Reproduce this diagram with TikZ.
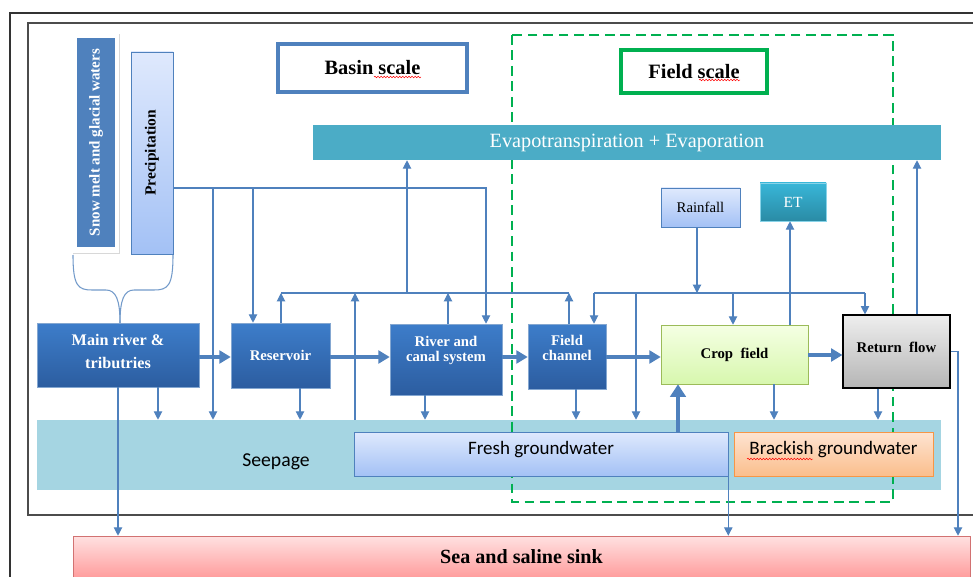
\documentclass[tikz,border=0pt]{standalone}
\usepackage{fontspec}
\setmainfont{Liberation Serif}
\newfontfamily\calfont{Carlito}
\usetikzlibrary{arrows.meta,shadows,decorations.pathmorphing}

\definecolor{linkblue}{HTML}{4F81BD}
\definecolor{boxtop}{HTML}{3D7DCA}
\definecolor{boxbot}{HTML}{2C5DA0}
\definecolor{evapteal}{HTML}{4BACC6}
\definecolor{seepteal}{HTML}{A5D5E2}
\definecolor{paletop}{HTML}{DFE9FD}
\definecolor{palebot}{HTML}{A3C1F5}
\definecolor{croptop}{HTML}{F5FFE3}
\definecolor{cropbot}{HTML}{D7F7AE}
\definecolor{cropedge}{HTML}{9BBB59}
\definecolor{rettop}{HTML}{EEEEEE}
\definecolor{retbot}{HTML}{B5B5B5}
\definecolor{ettop}{HTML}{38B6D8}
\definecolor{etbot}{HTML}{2A8BA5}
\definecolor{bracktop}{HTML}{FDE4D2}
\definecolor{brackbot}{HTML}{FBBE8C}
\definecolor{brackedge}{HTML}{F79646}
\definecolor{seatop}{HTML}{FFE1E1}
\definecolor{seabot}{HTML}{FF9C9C}
\definecolor{seaedge}{HTML}{D27272}
\definecolor{fieldgreen}{HTML}{00B050}

\tikzset{
  box at/.style args={#1/#2/#3/#4}{at={({(#1+#3)/2},{(#2+#4)/2})},
    minimum width={(#3-#1)*0.025cm}, minimum height={(#4-#2)*0.025cm}},
  box/.style={inner sep=0pt, align=center, anchor=center},
  shade box/.style={drop shadow={opacity=0.25,shadow xshift=1pt,shadow yshift=-1pt}},
  bluebox/.style={box, shade box, draw=linkblue!70!white, top color=boxtop, bottom color=boxbot,
    text=white, font=\fontsize{10.5}{13}\selectfont\bfseries},
  palebox/.style={box, shade box, draw=linkblue, top color=paletop, bottom color=palebot},
  scalebox/.style={box, fill=white, line width=2.4pt, font=\fontsize{14.5}{16}\selectfont\bfseries},
  linkline/.style={draw=linkblue, line width=0.75pt},
  linkarr/.style={linkline, -{Triangle[length=6pt,width=6pt]}},
  bigarr/.style={draw=linkblue, line width=2.6pt, -{Triangle[length=8pt,width=9pt]}},
  spellmark/.style={red, line width=0.35pt, decorate, decoration={snake,amplitude=0.6pt,segment length=2.2pt}}
}

\begin{document}
\begin{tikzpicture}[x=0.025cm,y=-0.025cm]
	\useasboundingbox (0,0) rectangle (973,577);
	\clip (0,0) rectangle (973,577);
	\fill[white] (0,0) rectangle (973,577);

	\draw[black!80, line width=1.1pt] (10,590) -- (10,13) -- (990,13);
	\draw[black!70, line width=0.8pt] (990,23) -- (28,23) -- (28,515) -- (990,515);

	\node[box, box at=37/420/941/490, fill=seepteal] (seep) {};
	\node[font=\calfont\fontsize{14}{16}\selectfont] (seeptext) at (276,462) {Seepage};
	\draw[fieldgreen, line width=1.4pt, dash pattern=on 7pt off 4pt] (512,35) rectangle (893,502);

	\node[scalebox, draw=linkblue, box at=278/44/467/92] (basin) {Basin scale};
	\node[scalebox, draw=fieldgreen, box at=621/50/767/93] (field) {Field scale};
	\draw[spellmark] (374,77) -- (421,77);
	\draw[spellmark] (699,80) -- (740,80);

	\node[box, box at=313/125/941/160, fill=evapteal, text=white, font=\fontsize{14.4}{16}\selectfont] (evap) {Evapotranspiration + Evaporation};

	\node[box, box at=72/33/119/253, fill=white, drop shadow={opacity=0.3,shadow xshift=0.6pt,shadow yshift=-0.6pt}] (snowframe) {};
	\node[box, box at=77/38/115/247, fill=linkblue, text=white, font=\fontsize{10.7}{12}\selectfont\bfseries] (snow) {\rotatebox{90}{Snow melt and glacial waters}};
	\node[palebox, box at=131/52/173/254, font=\fontsize{11}{12}\selectfont\bfseries] (prec) {\rotatebox{90}{Precipitation}};

	\node[bluebox, box at=37/323/199/387, font=\fontsize{11.5}{16}\selectfont\bfseries, text depth=5pt] (main) {Main river \&\\tributries};
	\node[bluebox, box at=231/323/330/388] (res) {Reservoir};
	\node[bluebox, box at=390/324/502/395, text depth=15pt] (canal) {River and\\[-2pt]canal system};
	\node[bluebox, box at=528/324/606/389, text depth=12pt] (chan) {Field\\[-2pt]channel};
	\node[box, shade box, box at=661/325/808/384, draw=cropedge, top color=croptop, bottom color=cropbot, font=\fontsize{10.5}{13}\selectfont\bfseries] (crop) {Crop\ \ field};
	\node[box, shade box, box at=843/315/950/388, draw=black, line width=0.8pt, top color=rettop, bottom color=retbot, font=\fontsize{10.5}{13}\selectfont\bfseries, text depth=6.5pt] (ret) {Return\ \ flow};
	\node[palebox, box at=661/188/740/227, font=\fontsize{10.5}{12}\selectfont] (rain) {Rainfall};
	\node[box, shade box, box at=760/183/826/221, draw=ettop!60!white, top color=ettop, bottom color=etbot, text=white, font=\fontsize{11}{12}\selectfont] (et) {ET};

	\node[palebox, box at=354/432/728/476, font=\calfont\fontsize{13.5}{15}\selectfont, text depth=8pt] (fresh) {Fresh groundwater};
	\node[box, shade box, box at=734/432/933/476, draw=brackedge, top color=bracktop, bottom color=brackbot, font=\calfont\fontsize{13.5}{15}\selectfont, text depth=8pt] (brack) {Brackish groundwater};
	\draw[spellmark] (747,459) -- (813,459);
	\node[box, shade box, box at=73/536/970/578, draw=seaedge, top color=seatop, bottom color=seabot, font=\fontsize{14.3}{16}\selectfont\bfseries] (sea) {Sea and saline sink};

	\draw[linkline, draw=linkblue!80!white] (73,255) .. controls (73,286) and (78,290) .. (92,290) -- (106,290) .. controls (116,290) and (120,300) .. (120,323);
	\draw[linkline, draw=linkblue!80!white] (173,255) .. controls (173,286) and (168,290) .. (154,290) -- (134,290) .. controls (124,290) and (120,300) .. (120,323);

	\draw[bigarr] (main.east |- 0,357) -- (res.west |- 0,357);
	\draw[bigarr] (res.east |- 0,357) -- (canal.west |- 0,357);
	\draw[bigarr] (canal.east |- 0,357) -- (chan.west |- 0,357);
	\draw[bigarr] (chan.east |- 0,357) -- (crop.west |- 0,357);
	\draw[bigarr] (crop.east |- 0,355) -- (ret.west |- 0,355);
	\draw[bigarr, line width=3.4pt, -{Triangle[length=9pt,width=11pt]}] (fresh.north -| 678,0) -- (crop.south -| 678,0);

	\draw[linkarr] (prec.east |- 0,188) -| (canal.north -| 486,0);
	\draw[linkarr] (213,188) -- (seep.north -| 213,0);
	\draw[linkarr] (253,188) -- (res.north -| 253,0);

	\draw[linkline] (281,293) -- (569,293);
	\draw[linkarr] (res.north -| 281,0) -- (281,293);
	\draw[linkarr] (seep.north -| 355,0) -- (355,293);
	\draw[linkarr] (canal.north -| 448,0) -- (448,293);
	\draw[linkarr] (chan.north -| 569,0) -- (569,293);
	\draw[linkarr] (407,293) -- (evap.south -| 407,0);

	\draw[linkarr] (rain.south -| 697,0) -- (697,293);
	\draw[linkline] (594,293) -- (865,293);
	\draw[linkarr] (594,293) -- (chan.north -| 594,0);
	\draw[linkarr] (636,293) -- (seep.north -| 636,0);
	\draw[linkarr] (733,293) -- (crop.north -| 733,0);
	\draw[linkarr] (865,293) -- (ret.north -| 865,0);

	\draw[linkarr] (crop.north -| 790,0) -- (et.south -| 790,0);
	\draw[linkarr] (ret.north -| 917,0) -- (evap.south -| 917,0);
	\draw[linkarr] (ret.east) -| (sea.north -| 958,0);

	\draw[linkarr] (main.south) -- (main.south |- sea.north);
	\draw[linkarr] (main.south -| 158,0) -- (seep.north -| 158,0);
	\draw[linkarr] (res.south -| 300,0) -- (seep.north -| 300,0);
	\draw[linkarr] (canal.south -| 425,0) -- (seep.north -| 425,0);
	\draw[linkarr] (chan.south -| 576,0) -- (seep.north -| 576,0);
	\draw[linkarr] (crop.south -| 774,0) -- (seep.north -| 774,0);
	\draw[linkarr] (ret.south -| 878,0) -- (seep.north -| 878,0);
	\draw[linkarr] (fresh.south east) -- (fresh.south east |- sea.north);
\end{tikzpicture}
\end{document}
